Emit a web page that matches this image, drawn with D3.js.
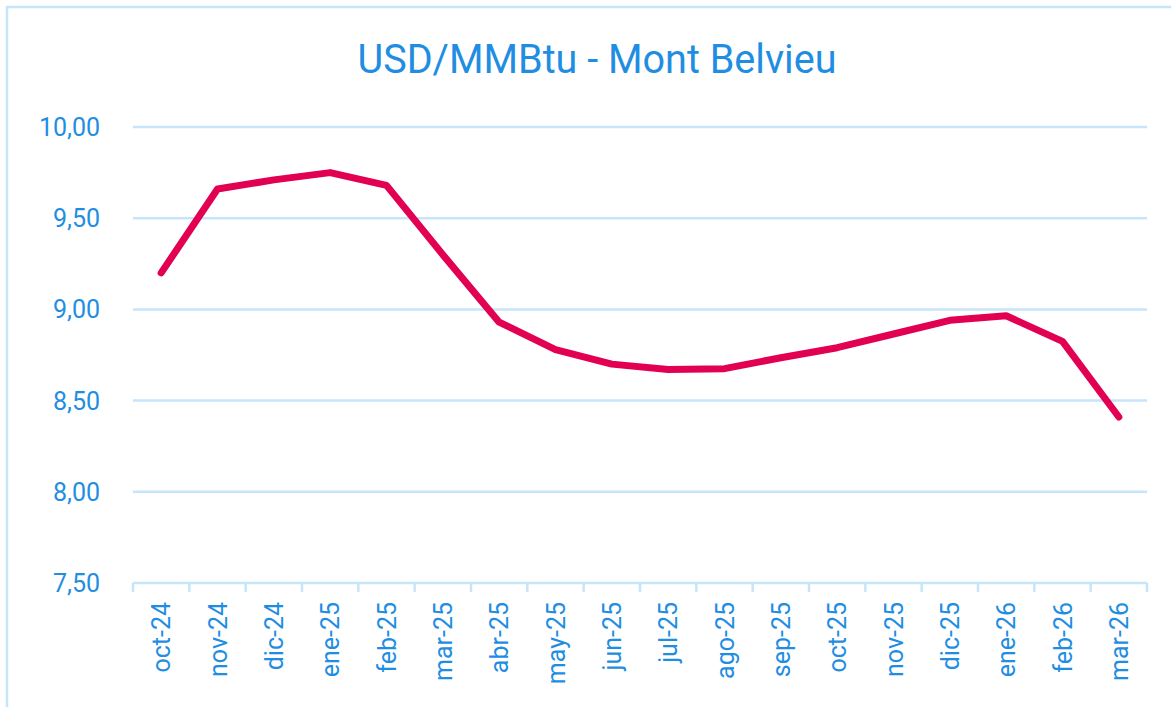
<!DOCTYPE html>
<html>
<head>
<meta charset="utf-8">
<script src="https://cdn.jsdelivr.net/npm/d3@7"></script>
<style>
  body { margin: 0; background: #fff; }
  svg { display: block; }
  text { font-family: Roboto, "Noto Sans", sans-serif; fill: #1f8ee2; }
</style>
</head>
<body>
<script>
// chart data
var months = ["oct-24","nov-24","dic-24","ene-25","feb-25","mar-25","abr-25","may-25","jun-25",
              "jul-25","ago-25","sep-25","oct-25","nov-25","dic-25","ene-26","feb-26","mar-26"];
var prices = [9.20, 9.66, 9.71, 9.75, 9.68, 9.30, 8.93, 8.78, 8.70,
              8.67, 8.675, 8.735, 8.79, 8.865, 8.94, 8.965, 8.825, 8.41];
var yTicks = [7.5, 8.0, 8.5, 9.0, 9.5, 10.0];
var title = "USD/MMBtu - Mont Belvieu";

var width = 1171, height = 707;
var margin = {left: 133, right: 24, top: 127, bottom: 124};
var w = width - margin.left - margin.right;
var h = height - margin.top - margin.bottom;

var svg = d3.select("body").append("svg").attr("width", width).attr("height", height);

// outer frame
svg.append("rect")
   .attr("x", 7).attr("y", 7).attr("width", width + 20).attr("height", height + 20)
   .attr("fill", "none").attr("stroke", "#c7e5fa").attr("stroke-width", 2.5);

// title
svg.append("text")
   .attr("x", 597).attr("y", 73)
   .attr("text-anchor", "middle")
   .attr("font-size", 40)
   .attr("textLength", 479).attr("lengthAdjust", "spacingAndGlyphs")
   .text(title);

var x = d3.scaleBand().domain(months).range([0, w]);
var y = d3.scaleLinear().domain([7.5, 10]).range([h, 0]);

var g = svg.append("g").attr("transform", "translate(" + margin.left + "," + margin.top + ")");

// gridlines
g.selectAll(".grid").data(yTicks.slice(1)).enter().append("line")
 .attr("x1", 0).attr("x2", w)
 .attr("y1", function(d){ return y(d); }).attr("y2", function(d){ return y(d); })
 .attr("stroke", "#c7e5fa").attr("stroke-width", 2.5);

// y labels
g.selectAll(".ylab").data(yTicks).enter().append("text")
 .attr("x", -33).attr("y", function(d){ return y(d); })
 .attr("dy", "0.36em")
 .attr("text-anchor", "end")
 .attr("font-size", 25)
 .text(function(d){ return d3.format(".2f")(d).replace(".", ","); });

// x axis baseline with ticks at band edges
var edges = months.map(function(m){ return x(m); }).concat([w]);
g.append("line").attr("x1", 0).attr("x2", w).attr("y1", h).attr("y2", h)
 .attr("stroke", "#c7e5fa").attr("stroke-width", 2.5);
g.selectAll(".tick").data(edges).enter().append("line")
 .attr("x1", function(d){ return d; }).attr("x2", function(d){ return d; })
 .attr("y1", h).attr("y2", h + 9)
 .attr("stroke", "#c7e5fa").attr("stroke-width", 2.5);

// x labels rotated
g.selectAll(".xlab").data(months).enter().append("text")
 .attr("transform", function(d){
   return "translate(" + (x(d) + x.bandwidth() / 2) + "," + (h + 19) + ") rotate(-90)";
 })
 .attr("dy", "0.36em")
 .attr("text-anchor", "end")
 .attr("font-size", 25)
 .text(function(d){ return d; });

// price line
var line = d3.line()
  .x(function(d, i){ return x(months[i]) + x.bandwidth() / 2; })
  .y(function(d){ return y(d); });

g.append("path").attr("d", line(prices))
 .attr("fill", "none").attr("stroke", "#e20052").attr("stroke-width", 7)
 .attr("stroke-linejoin", "round").attr("stroke-linecap", "round");
</script>
</body>
</html>
